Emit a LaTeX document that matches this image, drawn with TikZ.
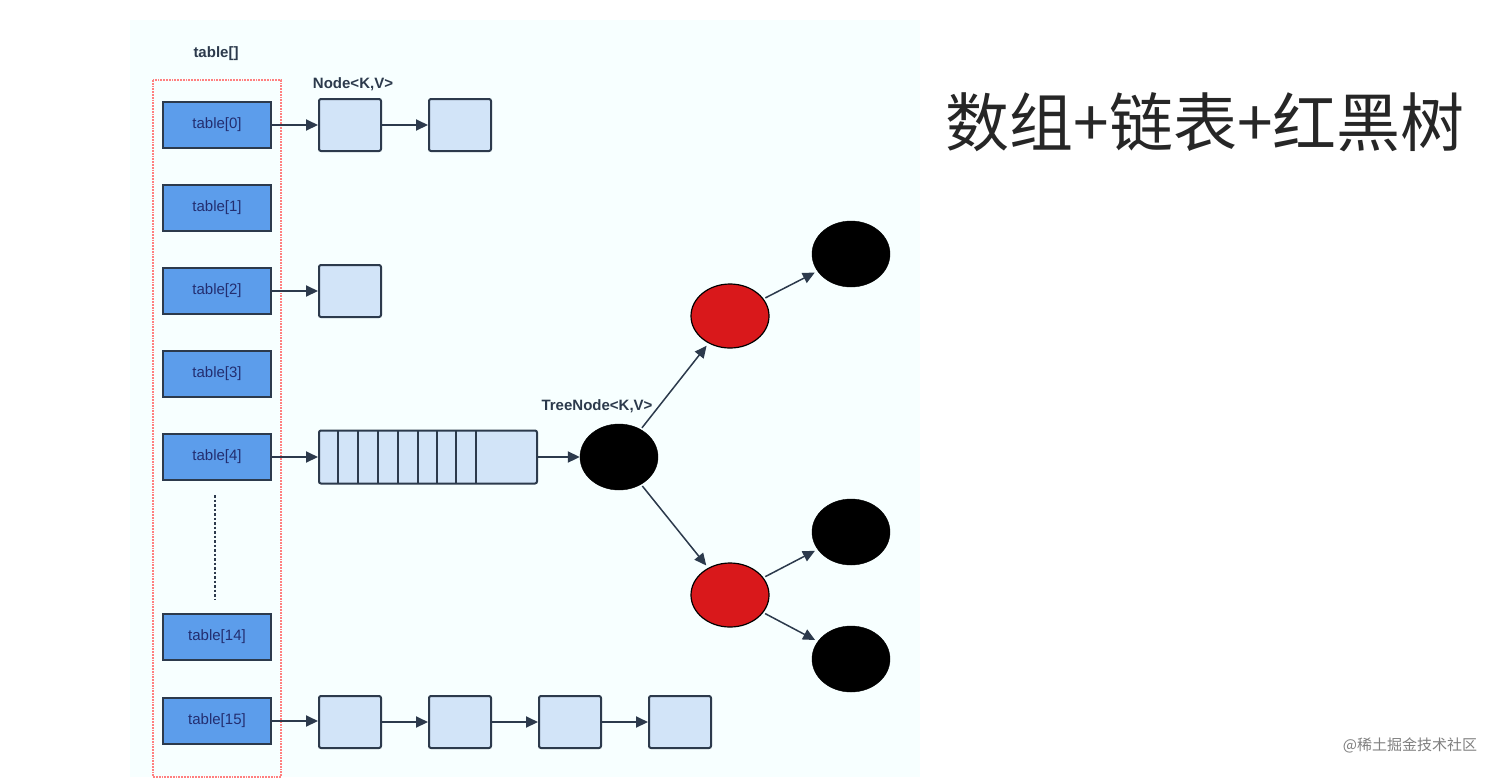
\documentclass[tikz,border=0pt]{standalone}
\usepackage{fontspec}
\setmainfont{Liberation Sans}
\newfontfamily\cjk{Noto Sans CJK SC}
\usetikzlibrary{arrows.meta,shapes.geometric}
\definecolor{tb}{HTML}{5C9DEB}
\definecolor{nb}{HTML}{D2E4F8}
\definecolor{bd}{HTML}{2C3A4C}
\definecolor{rd}{HTML}{D9181B}
\begin{document}
\begin{tikzpicture}[x=1pt,y=-1pt,
 tab/.style={draw=bd,line width=2.2pt,fill=tb,minimum width=108pt,minimum height=46pt,inner sep=0pt,font=\fontsize{15}{15}\selectfont,text=bd!80!blue},
 nd/.style={draw=bd,line width=2pt,fill=nb,rounded corners=2pt,minimum width=62pt,minimum height=52pt,inner sep=0pt},
 bk/.style={ellipse,draw=black,fill=black,minimum width=78pt,minimum height=66pt,inner sep=0pt},
 rn/.style={ellipse,draw=black,line width=1.2pt,fill=rd,minimum width=78pt,minimum height=64pt,inner sep=0pt},
 ar/.style={-{Triangle[length=12pt,width=11pt]},line width=2pt,draw=bd},
 lab/.style={font=\bfseries\fontsize{15}{15}\selectfont,text=bd}]
\useasboundingbox (0,0) rectangle (1512,777);
\fill[white] (0,0) rectangle (1512,777);
\fill[blue!3!cyan!3] (130,20) rectangle (920,777);
\draw[red!50,densely dotted,line width=1.8pt] (153,80) rectangle (281,777);
\node[lab] (tl) at (216,54) {table[]};
\node[lab] (nl) at (353,84) {Node<K,V>};
\node[lab] (tnl) at (597,406) {TreeNode<K,V>};
\foreach \n/\y/\t in {0/125/table[0],1/208/table[1],2/291/table[2],3/374/table[3],4/457/table[4],14/637/table[14],15/721/table[15]}
  \node[tab] (t\n) at (217,\y) {\t};
\draw[bd,line width=2.5pt,dotted] (215,495) -- (215,600);
\node[nd] (a1) at (350,125) {};
\node[nd] (a2) at (460,125) {};
\node[nd] (b1) at (350,291) {};
\foreach \i/\x in {1/350,2/460,3/570,4/680} \node[nd] (c\i) at (\x,722) {};
\node[nd,minimum width=218pt,minimum height=53pt] (bar) at (428,457) {};
\foreach \x in {338,358,378,398,418,437,456,476} \draw[bd,line width=2pt] (\x,431) -- (\x,484);
\draw[ar] (t0) -- (a1); \draw[ar] (a1) -- (a2);
\draw[ar] (t2) -- (b1);
\draw[ar] (t4) -- (bar);
\draw[ar] (t15.east) -- (t15.east -| c1.west); \draw[ar] (c1) -- (c2); \draw[ar] (c2) -- (c3); \draw[ar] (c3) -- (c4);
\node[bk] (r) at (619,457) {};
\node[rn] (u) at (730,316) {};
\node[rn] (l) at (730,595) {};
\node[bk] (u1) at (851,254) {};
\node[bk] (l1) at (851,532) {};
\node[bk] (l2) at (851,659) {};
\draw[ar] (bar) -- (r);
\draw[ar,line width=1.5pt,shorten <=2pt,shorten >=3pt] (r) -- (u);
\draw[ar,line width=1.5pt,shorten <=2pt,shorten >=3pt] (r) -- (l);
\draw[ar,line width=1.5pt,shorten <=2pt,shorten >=3pt] (u) -- (u1);
\draw[ar,line width=1.5pt,shorten <=2pt,shorten >=3pt] (l) -- (l1);
\draw[ar,line width=1.5pt,shorten <=2pt,shorten >=3pt] (l) -- (l2);
\node[font=\cjk\fontsize{64}{64}\selectfont,text=black!85] (title) at (1205,122) {数组+链表+红黑树};
\node[font=\cjk\fontsize{15}{15}\selectfont,text=gray] (wm) at (1410,745) {@稀土掘金技术社区};
\end{tikzpicture}
\end{document}
